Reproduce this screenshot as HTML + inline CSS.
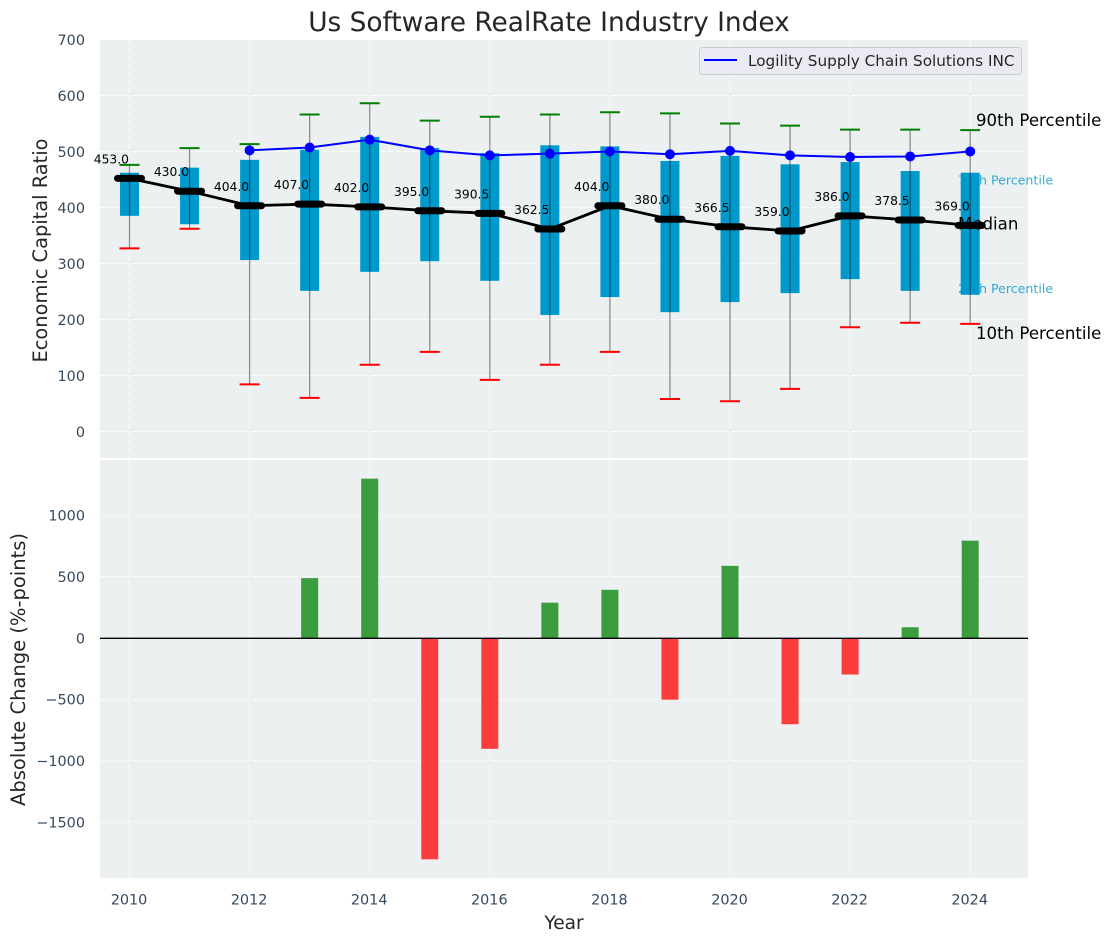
<!DOCTYPE html>
<html lang="en">
<head>
<meta charset="utf-8">
<title>Us Software RealRate Industry Index</title>
<style>
html,body{margin:0;padding:0;background:#fff;}
svg{display:block;font-family:"DejaVu Sans","Liberation Sans",sans-serif;}
</style>
</head>
<body>
<svg id="chart" xmlns="http://www.w3.org/2000/svg" width="1111" height="942" viewBox="0 0 1111 942"></svg>
<script>
const years = [2010,2011,2012,2013,2014,2015,2016,2017,2018,2019,2020,2021,2022,2023,2024];
const p90 = [477,507,514,567,587,556,563,567,571,569,551,547,540,540,539];
const p75 = [463,472,486,504,527,507,498,512,510,484,493,478,482,466,463];
const medians = [453,430,404,407,402,395,390.5,362.5,404,380,366.5,359,386,378.5,369];
const p25 = [386,371,307,252,286,305,270,209,241,214,232,248,273,252,245];
const p10 = [328,363,85,61,120,143,93,120,143,59,55,77,187,195,193];
const companyYears = [2012,2013,2014,2015,2016,2017,2018,2019,2020,2021,2022,2023,2024];
const companyValues = [503,508,522,503,494,497,501,496,502,494,491,492,501];
const changeYears = [2013,2014,2015,2016,2017,2018,2019,2020,2021,2022,2023,2024];
const changeValues = [490,1300,-1800,-900,290,395,-500,590,-700,-295,90,795];
const xTickLabels = [2010,2012,2014,2016,2018,2020,2022,2024];
const yTopTickLabels = [0,100,200,300,400,500,600,700];
const yBottomTickLabels = [-1500,-1000,-500,0,500,1000];

const svg = document.getElementById('chart');
const NS = 'http://www.w3.org/2000/svg';
const L = 100, R = 1028, T1 = 40, B1 = 458, T2 = 460, B2 = 878;
const xScale = v => 129.5 + (v - 2010) * 60.05;
const yTop = v => 432 - v * 0.56;
const yBottom = v => 638.3 - v * 0.1228;

function mk(tag, attrs, parent) {
  const el = document.createElementNS(NS, tag);
  for (const k in attrs) el.setAttribute(k, attrs[k]);
  (parent || svg).appendChild(el);
  return el;
}
function txt(content, attrs, parent) {
  const el = mk('text', attrs, parent);
  el.textContent = content;
  return el;
}
function minus(v) { return String(v).replace('-', '\u2212'); }

/* panels */
const panelTop = mk('rect', {x:L, y:T1, width:R-L, height:B1-T1, fill:'#ecf0f1'});


const panelBottom = mk('rect', {x:L, y:T2, width:R-L, height:B2-T2, fill:'#ecf0f1'});



/* grid */
const gridStyle = {stroke:'#ffffff', 'stroke-width':1, 'stroke-dasharray':'5 3', 'stroke-opacity':0.85};
const grid = mk('g', gridStyle);


xTickLabels.forEach(v => {
  const x = xScale(v);
  mk('line', {x1:x, x2:x, y1:T1, y2:B1}, grid);
  mk('line', {x1:x, x2:x, y1:T2, y2:B2}, grid);
});
yTopTickLabels.forEach(v => {
  const y = yTop(v) - 0.5;
  mk('line', {x1:L, x2:R, y1:y, y2:y}, grid);
});
yBottomTickLabels.forEach(v => {
  const y = yBottom(v) - 0.3;
  mk('line', {x1:L, x2:R, y1:y, y2:y}, grid);
});

/* tick labels */
const tickColor = '#34495e';
xTickLabels.forEach(v => {
  const t = txt(v, {x:xScale(v)-0.5, y:904.5, 'font-size':14.4, fill:tickColor, 'text-anchor':'middle'});
  
  
});
yTopTickLabels.forEach(v => {
  const t = txt(v, {x:85, y:yTop(v)+5, 'font-size':14.4, fill:tickColor, 'text-anchor':'end'});
  
  
});
yBottomTickLabels.forEach(v => {
  const t = txt(minus(v), {x:85, y:yBottom(v)+5, 'font-size':14.4, fill:tickColor, 'text-anchor':'end'});
  
  
});

/* percentile labels that sit behind the boxes */
const lastIndex = years.length - 1;
const label75 = txt('75th Percentile', {x:958, y:yTop(p75[lastIndex])+12, 'font-size':12.6, fill:'#0099cc', 'fill-opacity':0.8});


const label25 = txt('25th Percentile', {x:958, y:yTop(p25[lastIndex])-2, 'font-size':12.6, fill:'#0099cc', 'fill-opacity':0.8});



/* boxes */
const boxW = 19, capW = 20;
years.forEach((yr, i) => {
  const x = xScale(yr);
  const box = mk('rect', {x:x-boxW/2, y:yTop(p75[i]), width:boxW, height:yTop(p25[i])-yTop(p75[i]), fill:'#0099cc'});
  
  
  const whisker = mk('line', {x1:x, x2:x, y1:yTop(p90[i]), y2:yTop(p10[i]), stroke:'#000', 'stroke-opacity':0.42, 'stroke-width':1.3});
  
  
  const capHi = mk('line', {x1:x-capW/2, x2:x+capW/2, y1:yTop(p90[i]), y2:yTop(p90[i]), stroke:'#008000', 'stroke-width':2});
  
  
  const capLo = mk('line', {x1:x-capW/2, x2:x+capW/2, y1:yTop(p10[i]), y2:yTop(p10[i]), stroke:'#ff0000', 'stroke-width':2});
  
  
});

/* median text label, under the median line */
const labelMedian = txt('Median', {x:958, y:yTop(medians[lastIndex])+4, 'font-size':16.6, fill:'#000'});



/* median line */
const medianLine = mk('polyline', {
  points: years.map((yr, i) => xScale(yr) + ',' + yTop(medians[i])).join(' '),
  fill:'none', stroke:'#000', 'stroke-width':2.8
});



years.forEach((yr, i) => {
  const x = xScale(yr), y = yTop(medians[i]);
  const tick = mk('line', {x1:x-12, x2:x+12, y1:y, y2:y, stroke:'#000', 'stroke-width':7, 'stroke-linecap':'round'});
  
  
  const val = txt(medians[i].toFixed(1), {x:x-0.5, y:y-15, 'font-size':12.3, fill:'#000', 'text-anchor':'end'});
  
  
});

/* company series */
const companyLine = mk('polyline', {
  points: companyYears.map((yr, i) => xScale(yr) + ',' + yTop(companyValues[i])).join(' '),
  fill:'none', stroke:'#0000ff', 'stroke-width':2
});


companyYears.forEach((yr, i) => {
  const dot = mk('circle', {cx:xScale(yr), cy:yTop(companyValues[i]), r:5, fill:'#0000ff'});
  
  
});

/* outer labels */
const label90 = txt('90th Percentile', {x:976, y:yTop(p90[lastIndex])-4, 'font-size':16.6, fill:'#000'});


const label10 = txt('10th Percentile', {x:976, y:yTop(p10[lastIndex])+15, 'font-size':16.6, fill:'#000'});



/* change bars */
const barW = 17;
changeYears.forEach((yr, i) => {
  const v = changeValues[i];
  const y0 = yBottom(0), y1 = yBottom(v);
  const bar = mk('rect', {
    x:xScale(yr)-barW/2, y:Math.min(y0,y1), width:barW, height:Math.abs(y1-y0),
    fill: v >= 0 ? '#008000' : '#ff0000', 'fill-opacity':0.75
  });
  
  
});
const zeroLine = mk('line', {x1:L, x2:R, y1:yBottom(0), y2:yBottom(0), stroke:'#000', 'stroke-width':1.3});



/* titles */
const title = txt('Us Software RealRate Industry Index', {x:549, y:31, 'font-size':26.4, fill:'#262626', 'text-anchor':'middle'});


const xTitle = txt('Year', {x:564, y:929, 'font-size':18.6, fill:'#262626', 'text-anchor':'middle'});


const yTitleTop = txt('Economic Capital Ratio', {x:0, y:0, 'font-size':19.4, fill:'#262626', 'text-anchor':'middle', transform:'translate(47,250.5) rotate(-90)'});


const yTitleBottom = txt('Absolute Change (%-points)', {x:0, y:0, 'font-size':19.5, fill:'#262626', 'text-anchor':'middle', transform:'translate(25,669.5) rotate(-90)'});



/* legend */
const legend = mk('g', {});


const legendBox = mk('rect', {x:699.5, y:47.5, width:322, height:27, rx:3, fill:'#eaeaf2', 'fill-opacity':0.8, stroke:'#cccccc', 'stroke-width':1}, legend);


const legendLine = mk('line', {x1:704, x2:737, y1:60, y2:60, stroke:'#0000ff', 'stroke-width':2}, legend);


const legendText = txt('Logility Supply Chain Solutions INC', {x:748, y:66, 'font-size':15.25, fill:'#262626'}, legend);


</script>
</body>
</html>
